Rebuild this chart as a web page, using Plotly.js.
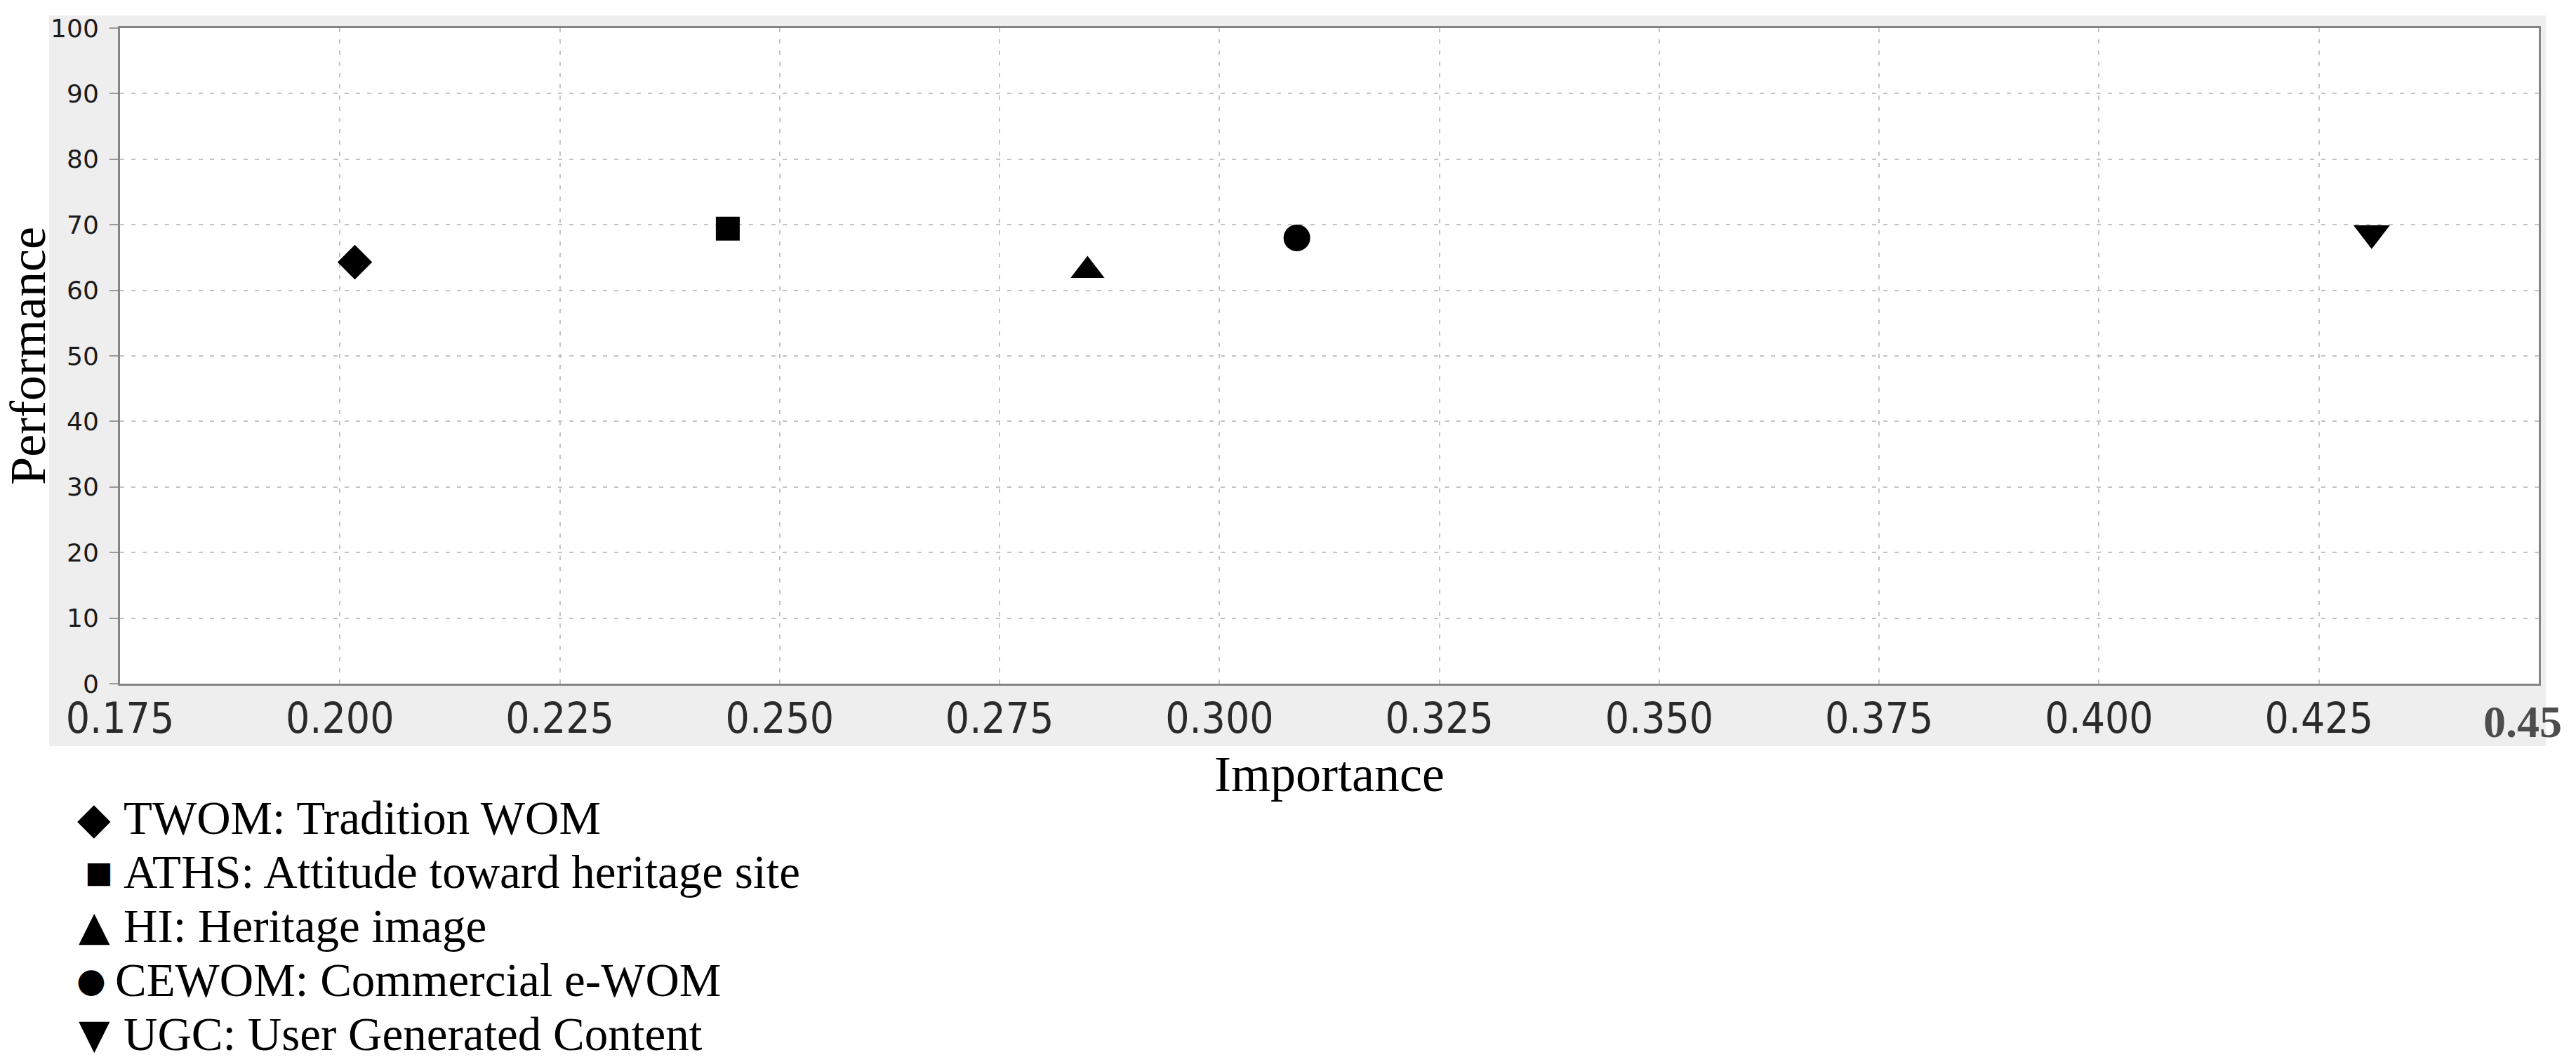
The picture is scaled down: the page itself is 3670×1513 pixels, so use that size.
<!DOCTYPE html>
<html><head><meta charset="utf-8">
<script src="https://cdn.plot.ly/plotly-3.0.1.min.js"></script>
<style>html,body{margin:0;padding:0;background:#fff;} #chart{width:3670px;height:1513px;}</style>
</head><body><div id="chart"></div>
<script>
// ---- data ----
const codes = ['TWOM', 'ATHS', 'HI', 'CEWOM', 'UGC'];
const names = ['Tradition WOM', 'Attitude toward heritage site', 'Heritage image', 'Commercial e-WOM', 'User Generated Content'];
const importance = [0.2017, 0.2441, 0.2850, 0.3088, 0.4310];
const performance = [64.3, 69.4, 63.0, 68.0, 68.7];
const symbols = ['diamond', 'square', 'triangle-up', 'circle', 'triangle-down'];
const legendGlyphs = ['\u25C6', '\u25A0', '\u25B2', '\u25CF', '\u25BC'];
const xTickVals = [0.175, 0.200, 0.225, 0.250, 0.275, 0.300, 0.325, 0.350, 0.375, 0.400, 0.425];
const xTickText = ['0.175', '0.200', '0.225', '0.250', '0.275', '0.300', '0.325', '0.350', '0.375', '0.400', '0.425'];
const xEndLabel = '0.45';
const yTickVals = [0, 10, 20, 30, 40, 50, 60, 70, 80, 90, 100];

// ---- layout geometry (pixels) ----
const W = 3670, H = 1513;
const mL = 171, mR = 53, mT = 40, mB = 539;
const pw = W - mL - mR, ph = H - mT - mB;
const px2x = p => (p - mL) / pw;
const py2y = p => (H - mB - p) / ph;

const markerSizes = [38, 34, 42, 38, 45];
const glyphSizes = [62, 42, 58, 48, 58];
const glyphX = [134, 141, 134, 130, 134];
const textX = [174, 174, 174, 162, 174];

const traces = codes.map((c, i) => ({
  type: 'scatter', mode: 'markers',
  x: [importance[i]], y: [performance[i]],
  name: c + ': ' + names[i],
  marker: { symbol: symbols[i], size: markerSizes[i], color: '#000', line: { width: 0 } },
  showlegend: false, hoverinfo: 'x+y+name'
}));

const serif = 'Liberation Serif, Times New Roman, serif';
const annotations = [];
codes.forEach((c, i) => {
  const yc = 1165 + i * 77;
  annotations.push({
    xref: 'paper', yref: 'paper', x: px2x(glyphX[i]), y: py2y(yc),
    xanchor: 'center', yanchor: 'middle', showarrow: false,
    text: legendGlyphs[i], font: { family: 'DejaVu Sans, sans-serif', size: glyphSizes[i], color: '#000' }
  });
  annotations.push({
    xref: 'paper', yref: 'paper', x: px2x(textX[i]), y: py2y(yc),
    xanchor: 'left', yanchor: 'middle', showarrow: false,
    text: c + ': ' + names[i], font: { family: serif, size: 67, color: '#000' }
  });
});
annotations.push({
  xref: 'paper', yref: 'paper', x: px2x(3594), y: py2y(1028),
  xanchor: 'center', yanchor: 'middle', showarrow: false,
  text: '<b>' + xEndLabel + '</b>', font: { family: serif, size: 64, color: '#4d4d4d' }
});

const layout = {
  width: W, height: H,
  margin: { l: mL, r: mR, t: mT, b: mB, pad: 0 },
  paper_bgcolor: '#ffffff', plot_bgcolor: '#ffffff',
  showlegend: false,
  shapes: [
    { type: 'rect', xref: 'paper', yref: 'paper', layer: 'below',
      x0: px2x(70), x1: px2x(3627), y0: py2y(1063), y1: py2y(22),
      fillcolor: '#eeeeee', line: { width: 0 } },
    { type: 'rect', xref: 'paper', yref: 'paper', layer: 'below',
      x0: 0, x1: 1, y0: 0, y1: 1, fillcolor: '#ffffff', line: { width: 0 } }
  ],
  xaxis: {
    range: [0.175, 0.45], tickmode: 'array', tickvals: xTickVals, ticktext: xTickText,
    showgrid: true, gridcolor: '#c4c4c4', gridwidth: 2, griddash: '6px,10px',
    zeroline: false, showline: true, linecolor: '#858585', linewidth: 3, mirror: true,
    ticks: '', ticklabelstandoff: -5,
    tickfont: { family: 'Liberation Sans Narrow, DejaVu Sans Condensed, Arial Narrow, sans-serif', size: 60, color: '#2a2a2a' },
    title: { text: 'Importance', font: { family: serif, size: 72, color: '#000' }, standoff: 20 }
  },
  yaxis: {
    range: [0, 100], tickmode: 'array', tickvals: yTickVals,
    showgrid: true, gridcolor: '#c4c4c4', gridwidth: 2, griddash: '6px,10px',
    zeroline: false, showline: true, linecolor: '#858585', linewidth: 3, mirror: true,
    ticks: 'outside', ticklen: 12, tickwidth: 2, tickcolor: '#999999', ticklabelstandoff: 8,
    tickfont: { family: 'DejaVu Sans, sans-serif', size: 36, color: '#1a1a1a' },
    title: { text: 'Performance', font: { family: serif, size: 72, color: '#000' }, standoff: 6 }
  },
  annotations: annotations
};

Plotly.newPlot('chart', traces, layout, { staticPlot: true, displayModeBar: false });
</script></body></html>
